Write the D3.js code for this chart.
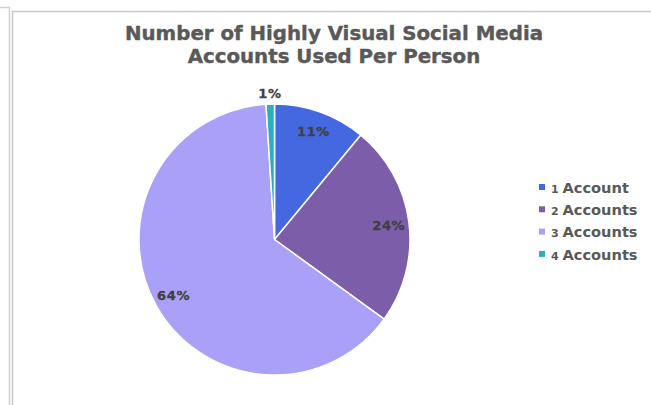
<!DOCTYPE html>
<html>
<head>
<meta charset="utf-8">
<script src="https://cdn.jsdelivr.net/npm/d3@7"></script>
<style>
  html, body { margin: 0; padding: 0; background: #fff; }
  svg { display: block; }
</style>
</head>
<body>
<svg id="chart" width="651" height="405"></svg>
<script>
// Accounts-per-person breakdown
const categories = ["1 Account", "2 Accounts", "3 Accounts", "4 Accounts"];
const counts = ["1", "2", "3", "4"];
const words = ["Account", "Accounts", "Accounts", "Accounts"];
const shares = [11, 24, 64, 1];
const colors = ["#4468E0", "#7B5DA9", "#A9A1F7", "#2AB0BA"];
const titleLines = ["Number of Highly Visual Social Media", "Accounts Used Per Person"];

const svg = d3.select("#chart");
const fontFam = "'DejaVu Sans', sans-serif";

// panel frames
svg.append("path").attr("d", "M0,7.5 H9.5 V405").attr("fill", "none").attr("stroke", "#d0d0d0").attr("stroke-width", 1.5);
svg.append("path").attr("d", "M12.5,405 V11.5 H651").attr("fill", "none").attr("stroke", "#c8c8c8").attr("stroke-width", 1.5);

// title
const title = svg.append("text")
  .attr("x", 334).attr("y", 40)
  .attr("text-anchor", "middle")
  .attr("font-family", fontFam).attr("font-weight", "bold")
  .attr("font-size", 19.8).attr("fill", "#595959")
  .attr("stroke", "#595959").attr("stroke-width", 0.4);
title.selectAll("tspan").data(titleLines).join("tspan")
  .attr("x", 334).attr("dy", (d, i) => i ? 23 : 0)
  .text(d => d);

// pie
const cx = 274.5, cy = 239.5, r = 135.5;
const pie = d3.pie().sort(null).value(d => d)(shares);
const arc = d3.arc().innerRadius(0).outerRadius(r);
const g = svg.append("g").attr("transform", `translate(${cx},${cy})`);
g.selectAll("path").data(pie).join("path")
  .attr("d", arc)
  .attr("fill", (d, i) => colors[i])
  .attr("stroke", "#fff").attr("stroke-width", 1.5).attr("stroke-linejoin", "round");

// data labels
const labelArc = d3.arc().innerRadius(r * 0.85).outerRadius(r * 0.85);
const outerArc = d3.arc().innerRadius(r * 1.08).outerRadius(r * 1.08);
g.selectAll("text.lbl").data(pie).join("text")
  .attr("class", "lbl")
  .attr("transform", (d, i) => {
    const p = shares[i] < 3 ? outerArc.centroid(d) : labelArc.centroid(d);
    return `translate(${p})`;
  })
  .attr("text-anchor", "middle").attr("dy", "0.36em")
  .attr("font-family", fontFam).attr("font-weight", "bold")
  .attr("font-size", 13).attr("letter-spacing", 0.6).attr("fill", "#404040")
  .attr("stroke", "#404040").attr("stroke-width", 0.3)
  .text(d => d.data + "%");

// legend
const legend = svg.append("g").attr("transform", "translate(539,187)");
const rows = legend.selectAll("g").data(categories).join("g")
  .attr("transform", (d, i) => `translate(0,${i * 22.3})`);
rows.append("rect").attr("x", 0).attr("y", -3).attr("width", 6).attr("height", 6)
  .attr("fill", (d, i) => colors[i]);
const lt = rows.append("text").attr("x", 12).attr("dy", "0.36em")
  .attr("font-family", fontFam).attr("font-weight", "bold").attr("fill", "#595959");
lt.append("tspan").attr("font-size", 11).text((d, i) => counts[i] + " ");
lt.append("tspan").attr("font-size", 14.6).text((d, i) => words[i]);
</script>
</body>
</html>
